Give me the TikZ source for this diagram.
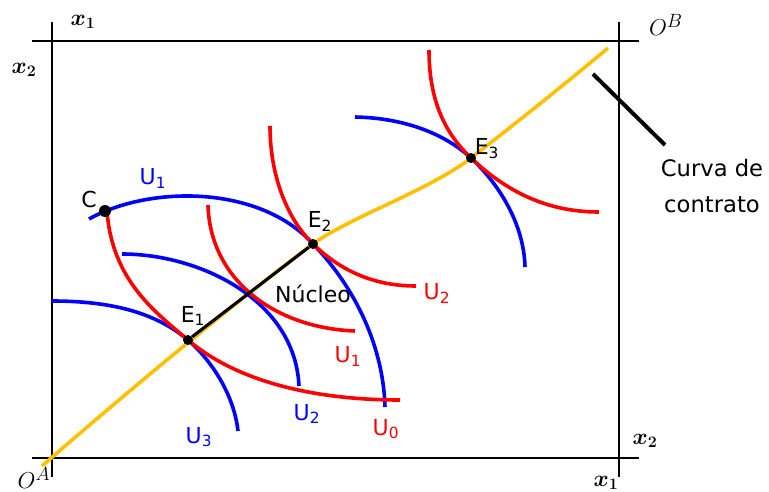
\documentclass[tikz,border=0pt]{standalone}
\usepackage{amsmath,amssymb,bm}
\usepackage{fontspec}
\newfontfamily\verd{DejaVu Sans}
\usetikzlibrary{positioning}
\definecolor{oro}{RGB}{255,192,0}

\begin{document}
\begin{tikzpicture}[x=0.75pt,y=-0.75pt,
  lab/.style={font=\verd\fontsize{16.5}{20}\selectfont,inner sep=0pt,anchor=base},
  axlab/.style={font=\fontsize{18}{20}\selectfont,inner sep=0pt},
  pt/.style={circle,fill=black,inner sep=0pt,minimum size=7.5pt},
  ucurve/.style={line width=2.7pt}]
\useasboundingbox (0,0) rectangle (769,492);
% caja
\draw[line width=1.6pt] (32,41) -- (639,41);
\draw[line width=1.6pt] (32,458) -- (639,458);
\draw[line width=1.6pt] (52,22) -- (52,477);
\draw[line width=1.6pt] (619,22) -- (619,477);
\node[axlab] (xa) at (83,22) {$\bm{x_1}$};
\node[axlab] (xb) at (24,70) {$\bm{x_2}$};
\node[axlab] (xc) at (645,441) {$\bm{x_2}$};
\node[axlab] (xd) at (606,483) {$\bm{x_1}$};
\node[axlab,font=\fontsize{19}{22}\selectfont] (oa) at (34,478) {$O^A$};
\node[axlab,font=\fontsize{19}{22}\selectfont] (ob) at (666,25) {$O^B$};
% curva de contrato
\draw[oro,ucurve] (42,466) .. controls (150,372) and (255,287) .. (313,244)
  .. controls (350,217) and (430,190) .. (471,158)
  .. controls (520,120) and (570,80) .. (608,48);
% curvas de A
\draw[blue,ucurve] (52,301) .. controls (110,301) and (155,312) .. (188,340)
  .. controls (212,361) and (234,395) .. (238,431);
\draw[blue,ucurve] (122,254) .. controls (200,254) and (295,300) .. (299,386);
\draw[blue,ucurve] (89,219) .. controls (150,185) and (260,185) .. (313,244)
  .. controls (350,282) and (383,340) .. (385,407);
\draw[blue,ucurve] (355,117) .. controls (405,118) and (445,134) .. (471,158)
  .. controls (500,185) and (524,225) .. (525,267);
% curvas de B
\draw[red,ucurve] (107,211) .. controls (112,280) and (155,312) .. (188,340)
  .. controls (240,384) and (320,400) .. (400,400);
\draw[red,ucurve] (208,205) .. controls (210,280) and (275,328) .. (355,331);
\draw[red,ucurve] (270,126) .. controls (270,180) and (290,222) .. (313,244)
  .. controls (345,275) and (380,286) .. (416,286);
\draw[red,ucurve] (429,50) .. controls (429,105) and (448,136) .. (471,158)
  .. controls (505,190) and (545,212) .. (599,212);
% puntos
\node[pt] (E1) at (188,340) {};
\node[pt] (E2) at (313,244) {};
\node[pt] (E3) at (471,158) {};
\node[pt,minimum size=9pt] (C) at (105,211) {};
\draw[line width=2.3pt] (E1) -- (E2);
\node[lab] (lc) at (89,208) {C};
\node[lab] (le1) at (193,322) {E\textsubscript{1}};
\node[lab] (le2) at (320,228) {E\textsubscript{2}};
\node[lab] (le3) at (487,155) {E\textsubscript{3}};
\node[lab] (nuc) at (313,302) {Núcleo};
\node[lab,blue] (ua1) at (153,185) {U\textsubscript{1}};
\node[lab,blue] (ua2) at (307,420) {U\textsubscript{2}};
\node[lab,blue] (ua3) at (199,443) {U\textsubscript{3}};
\node[lab,red] (ub0) at (386,435) {U\textsubscript{0}};
\node[lab,red] (ub1) at (348,363) {U\textsubscript{1}};
\node[lab,red] (ub2) at (437,300) {U\textsubscript{2}};
% etiqueta
\node[lab,anchor=center,align=center,font=\verd\fontsize{17}{27}\selectfont] (cc) at (712,186) {Curva de\\contrato};
\coordinate (p1) at (593,74);
\coordinate (p2) at (665,145);
\draw[line width=3pt] (p1) -- (p2);
\end{tikzpicture}
\end{document}
